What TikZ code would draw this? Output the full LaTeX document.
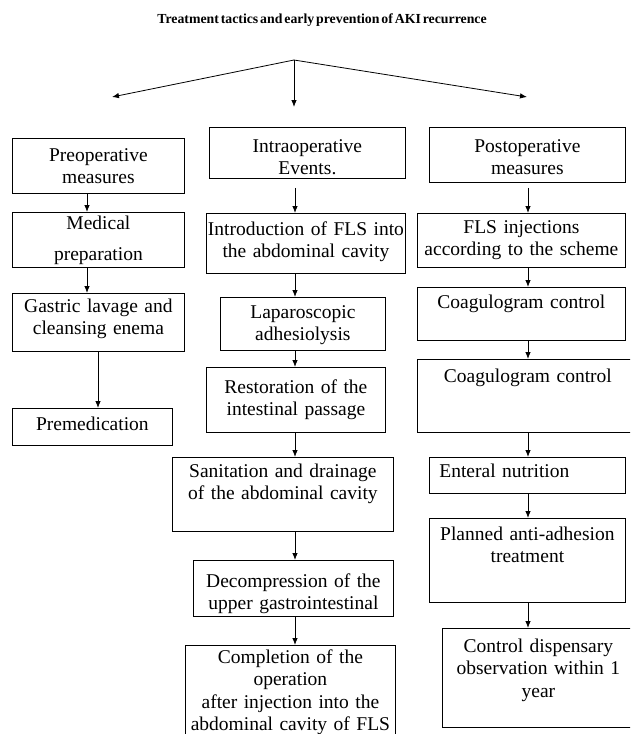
\documentclass[tikz,border=0pt]{standalone}
\usepackage{fontspec}
\setmainfont{Liberation Serif}[WordSpace=0.55]
\usepackage{tikz}
\usetikzlibrary{arrows.meta, calc}

\tikzset{
  box/.style={draw, line width=0.8pt, anchor=north west, align=center,
    inner xsep=4pt, inner ysep=0pt, font=\fontsize{19.5}{22.5}\selectfont},
  wh/.style n args={3}{text width=#1, text height=#2, text depth=#3},
  arr/.style={-{Latex[length=7pt,width=5.5pt]}, line width=0.8pt}
}

\begin{document}
\begin{tikzpicture}[x=1pt, y=-1pt]
        \useasboundingbox (0,0) rectangle (630,734);
        \clip (0,0) rectangle (630,734);
        \node[font=\fontsize{13.8}{16}\selectfont\bfseries, anchor=base] (0) at (322,23)
            {Treatment tactics and early prevention of AKI recurrence};

        % left column
        \node[box, wh={164pt}{23pt}{32pt}] (1) at (12,138) {Preoperative\\measures};
        \node[box, wh={164pt}{17pt}{38pt}] (2) at (12,212) {Medical\\[9pt]preparation};
        \node[box, wh={164pt}{19pt}{39pt}] (3) at (12,293) {Gastric lavage and\\cleansing enema};
        \node[box, wh={152pt}{22pt}{15pt}] (4) at (12,408) {Premedication};

        % middle column
        \node[box, wh={188pt}{25pt}{26pt}] (5) at (209,127) {Intraoperative\\Events.};
        \node[box, inner xsep=1pt, wh={197pt}{22pt}{38pt}] (6) at (206,213) {Introduction of FLS into\\the abdominal cavity};
        \node[box, wh={157pt}{21pt}{32pt}] (7) at (220,297) {Laparoscopic\\adhesiolysis};
        \node[box, wh={171pt}{26pt}{39pt}] (8) at (206,367) {Restoration of the\\intestinal passage};
        \node[box, wh={213pt}{20pt}{54pt}] (9) at (172,457) {Sanitation and drainage\\of the abdominal cavity};
        \node[box, wh={192pt}{27pt}{29pt}] (10) at (193,560) {Decompression of the\\upper gastrointestinal};
        \node[box, wh={202pt}{18pt}{100pt}] (11) at (185,645)
            {Completion of the\\operation\\after injection into the\\abdominal cavity of FLS};

        % right column
        \node[box, wh={188pt}{25pt}{30pt}] (12) at (429,127) {Postoperative\\measures};
        \node[box, wh={200pt}{20pt}{34pt}] (13) at (417,213) {FLS injections\\according to the scheme};
        \node[box, wh={200pt}{21pt}{32pt}] (14) at (417,287) {Coagulogram control};
        \node[box, wh={213pt}{23pt}{50pt}] (15) at (417,359) {Coagulogram control};
        \node[box, align=left, inner xsep=10pt, wh={176pt}{20pt}{16pt}] (16) at (429,457) {Enteral nutrition};
        \node[box, wh={188pt}{22pt}{62pt}] (17) at (429,518) {Planned anti-adhesion\\treatment};
        \node[box, wh={184pt}{24pt}{75pt}] (18) at (442,628)
            {Control dispensary\\observation within 1\\year};

        \coordinate (top) at (294,60);
        \coordinate (a) at (112,97);
        \coordinate (b) at (294,107);
        \coordinate (c) at (527,97);
        \coordinate (L) at (87,0);
        \coordinate (L2) at (98,0);
        \coordinate (M) at (295,0);
        \coordinate (R) at (528,0);

        \draw
        (top) edge[arr] (a)
        (top) edge[arr] (b)
        (top) edge[arr] (c)

        (1.south -| L) edge[arr] (2.north -| L)
        (2.south -| L) edge[arr] (3.north -| L)
        (3.south -| L2) edge[arr] (4.north -| L2)

        (5.south -| M) edge[arr, shorten <=9pt] (6.north -| M)
        (6.south -| M) edge[arr] (7.north -| M)
        (7.south -| M) edge[arr] (8.north -| M)
        (8.south -| M) edge[arr] (9.north -| M)
        (9.south -| M) edge[arr] (10.north -| M)
        (10.south -| M) edge[arr] (11.north -| M)

        (12.south -| R) edge[arr, shorten <=5pt] (13.north -| R)
        (13.south -| R) edge[arr] (14.north -| R)
        (14.south -| R) edge[arr] (15.north -| R)
        (15.south -| R) edge[arr] (16.north -| R)
        (16.south -| R) edge[arr] (17.north -| R)
        (17.south -| R) edge[arr] (18.north -| R)
        ;
    \end{tikzpicture}
\end{document}
